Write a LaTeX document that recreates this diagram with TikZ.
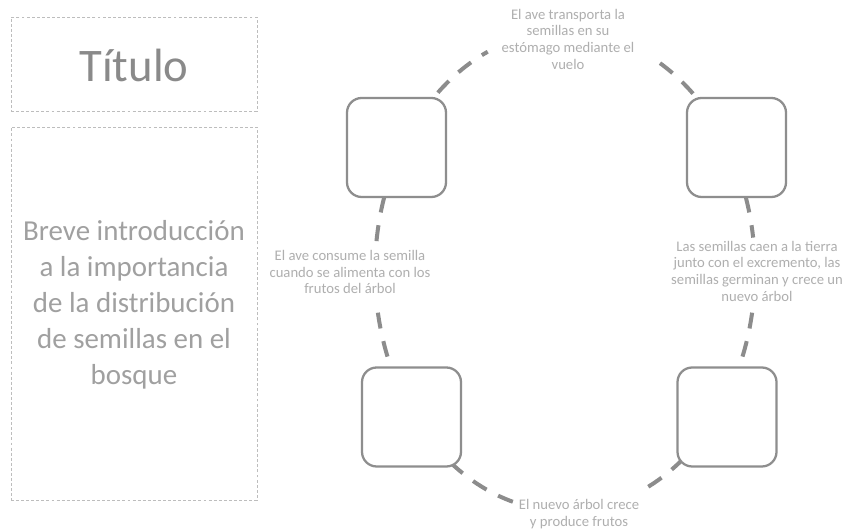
\documentclass[tikz,border=0pt]{standalone}
\usepackage{fontspec}
\setmainfont{Carlito}
\definecolor{panelgray}{HTML}{BDBDBD}
\definecolor{boxgray}{HTML}{8E8E8E}
\definecolor{dashgray}{HTML}{8C8C8C}
\definecolor{lblgray}{HTML}{AFAFAF}
\definecolor{titlegray}{HTML}{8A8A8A}
\definecolor{introgray}{HTML}{A0A0A0}
\begin{document}
\begin{tikzpicture}[x=0.75pt,y=0.75pt,
  panel/.style={draw=panelgray, line width=0.6pt, dash pattern=on 2.2pt off 1.6pt, minimum width=184.5pt, inner sep=0pt},
  stage/.style={draw=boxgray, line width=1.7pt, rounded corners=11pt, fill=white, minimum width=74.25pt, minimum height=74.25pt, inner sep=0pt},
  lbl/.style={text=lblgray, align=center, font=\fontsize{11}{12.5}\selectfont, inner sep=0pt},
  conn/.style={draw=dashgray, line width=3pt, dash pattern=on 12pt off 9.75pt}]
\useasboundingbox (0,0) rectangle (853,531);
\fill[white] (0,0) rectangle (853,531);

% left panels
\node[panel, minimum height=70.5pt] (titlebox) at (134,467) {};
\node[text=titlegray, font=\fontsize{35}{40}\selectfont] (title) at (134,465.5) {Título};
\node[panel, minimum height=279.75pt] (introbox) at (134,217.5) {};
\node[text=introgray, align=center, font=\fontsize{21.7}{27}\selectfont] (intro) at (134,226)
  {Breve introducción\\a la importancia\\de la distribución\\de semillas en el\\bosque};

% cycle
\coordinate (c) at (565,260);
\draw[conn] ([shift={(132:190 and 240)}]c) arc[start angle=132, end angle=114, x radius=190, y radius=240];
\draw[conn] ([shift={(60:190 and 240)}]c) arc[start angle=60, end angle=46, x radius=190, y radius=240];
\draw[conn] ([shift={(162:190 and 240)}]c) arc[start angle=162, end angle=174, x radius=190, y radius=240];
\draw[conn] ([shift={(190:190 and 240)}]c) arc[start angle=190, end angle=204, x radius=190, y radius=240];
\draw[conn] ([shift={(18:190 and 240)}]c) arc[start angle=18, end angle=8, x radius=190, y radius=240];
\draw[conn] ([shift={(-10:190 and 240)}]c) arc[start angle=-10, end angle=-24, x radius=190, y radius=240];
\draw[conn] ([shift={(233:190 and 240)}]c) arc[start angle=233, end angle=255, x radius=190, y radius=240];
\draw[conn] ([shift={(296:190 and 240)}]c) arc[start angle=296, end angle=309, x radius=190, y radius=240];

\node[stage] (tl) at (396.5,383.5) {};
\node[stage] (tr) at (736.5,383.5) {};
\node[stage] (bl) at (411.5,114) {};
\node[stage] (br) at (727,114) {};

\node[lbl] (ltop) at (568,492) {El ave transporta la\\semillas en su\\estómago mediante el\\vuelo};
\node[lbl] (lleft) at (350,259) {El ave consume la semilla\\cuando se alimenta con los\\frutos del árbol};
\node[lbl] (lright) at (757,260) {Las semillas caen a la tierra\\junto con el excremento, las\\semillas germinan y crece un\\nuevo árbol};
\node[lbl] (lbottom) at (579,17) {El nuevo árbol crece\\y produce frutos};
\end{tikzpicture}
\end{document}
